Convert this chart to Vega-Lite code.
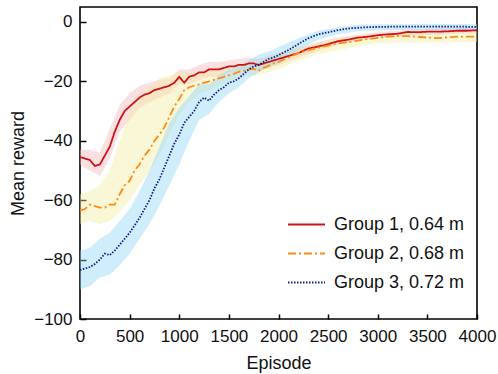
{
  "$schema": "https://vega.github.io/schema/vega-lite/v6.json",
  "width": 397,
  "height": 312,
  "autosize": "none",
  "padding": {"left": 80, "top": 7, "right": 21, "bottom": 55},
  "config": {
    "font": "Liberation Sans",
    "view": {"stroke": "black", "strokeWidth": 1.6},
    "axis": {
      "domain": false,
      "grid": false,
      "labelFontSize": 17,
      "labelColor": "#111",
      "labelOverlap": false,
      "labelFlush": false,
      "titleFontSize": 18,
      "titleFontWeight": "normal",
      "titleColor": "#111",
      "tickColor": "black",
      "tickWidth": 1.5
    },
    "legend": {
      "labelFontSize": 18,
      "labelColor": "#111",
      "symbolType": "stroke",
      "symbolSize": 1369,
      "symbolStrokeWidth": 2,
      "labelOffset": 8,
      "rowPadding": -17,
      "padding": 0
    }
  },
  "datasets": {
    "bands": [
      {"g": "Group 1, 0.64 m", "ep": 0, "lo": -48, "hi": -43},
      {"g": "Group 1, 0.64 m", "ep": 100, "lo": -50, "hi": -43},
      {"g": "Group 1, 0.64 m", "ep": 200, "lo": -52, "hi": -44},
      {"g": "Group 1, 0.64 m", "ep": 300, "lo": -46, "hi": -36},
      {"g": "Group 1, 0.64 m", "ep": 400, "lo": -37, "hi": -28},
      {"g": "Group 1, 0.64 m", "ep": 500, "lo": -33, "hi": -24},
      {"g": "Group 1, 0.64 m", "ep": 600, "lo": -29, "hi": -21.5},
      {"g": "Group 1, 0.64 m", "ep": 700, "lo": -27, "hi": -20.5},
      {"g": "Group 1, 0.64 m", "ep": 800, "lo": -25.5, "hi": -19.5},
      {"g": "Group 1, 0.64 m", "ep": 900, "lo": -24, "hi": -19},
      {"g": "Group 1, 0.64 m", "ep": 1000, "lo": -21, "hi": -16},
      {"g": "Group 1, 0.64 m", "ep": 1100, "lo": -21, "hi": -16},
      {"g": "Group 1, 0.64 m", "ep": 1200, "lo": -19.5, "hi": -14.5},
      {"g": "Group 1, 0.64 m", "ep": 1300, "lo": -18.5, "hi": -13.5},
      {"g": "Group 1, 0.64 m", "ep": 1400, "lo": -18.5, "hi": -13.5},
      {"g": "Group 1, 0.64 m", "ep": 1500, "lo": -17, "hi": -13},
      {"g": "Group 1, 0.64 m", "ep": 1600, "lo": -16.5, "hi": -12.5},
      {"g": "Group 1, 0.64 m", "ep": 1700, "lo": -16, "hi": -12},
      {"g": "Group 1, 0.64 m", "ep": 1800, "lo": -16.5, "hi": -12.5},
      {"g": "Group 1, 0.64 m", "ep": 1900, "lo": -15.5, "hi": -11.5},
      {"g": "Group 1, 0.64 m", "ep": 2000, "lo": -14.5, "hi": -10.5},
      {"g": "Group 1, 0.64 m", "ep": 2200, "lo": -12, "hi": -9},
      {"g": "Group 1, 0.64 m", "ep": 2400, "lo": -9.8, "hi": -6.8},
      {"g": "Group 1, 0.64 m", "ep": 2600, "lo": -7.8, "hi": -5.2},
      {"g": "Group 1, 0.64 m", "ep": 2800, "lo": -6.3, "hi": -4.3},
      {"g": "Group 1, 0.64 m", "ep": 3000, "lo": -5.5, "hi": -3.5},
      {"g": "Group 1, 0.64 m", "ep": 3200, "lo": -5, "hi": -3},
      {"g": "Group 1, 0.64 m", "ep": 3400, "lo": -4.5, "hi": -2.5},
      {"g": "Group 1, 0.64 m", "ep": 3600, "lo": -4.3, "hi": -2.3},
      {"g": "Group 1, 0.64 m", "ep": 3800, "lo": -4, "hi": -2},
      {"g": "Group 1, 0.64 m", "ep": 4000, "lo": -3.8, "hi": -1.8},
      {"g": "Group 2, 0.68 m", "ep": 0, "lo": -68, "hi": -58},
      {"g": "Group 2, 0.68 m", "ep": 100, "lo": -67, "hi": -57},
      {"g": "Group 2, 0.68 m", "ep": 200, "lo": -68, "hi": -55},
      {"g": "Group 2, 0.68 m", "ep": 300, "lo": -67, "hi": -50},
      {"g": "Group 2, 0.68 m", "ep": 400, "lo": -64, "hi": -40},
      {"g": "Group 2, 0.68 m", "ep": 500, "lo": -60, "hi": -30},
      {"g": "Group 2, 0.68 m", "ep": 600, "lo": -55, "hi": -25},
      {"g": "Group 2, 0.68 m", "ep": 700, "lo": -50, "hi": -22},
      {"g": "Group 2, 0.68 m", "ep": 800, "lo": -45, "hi": -19},
      {"g": "Group 2, 0.68 m", "ep": 900, "lo": -38, "hi": -18},
      {"g": "Group 2, 0.68 m", "ep": 1000, "lo": -31, "hi": -17},
      {"g": "Group 2, 0.68 m", "ep": 1100, "lo": -27, "hi": -17},
      {"g": "Group 2, 0.68 m", "ep": 1200, "lo": -24, "hi": -17},
      {"g": "Group 2, 0.68 m", "ep": 1300, "lo": -23, "hi": -16},
      {"g": "Group 2, 0.68 m", "ep": 1400, "lo": -21.5, "hi": -15.5},
      {"g": "Group 2, 0.68 m", "ep": 1500, "lo": -20, "hi": -15},
      {"g": "Group 2, 0.68 m", "ep": 1600, "lo": -19, "hi": -14.5},
      {"g": "Group 2, 0.68 m", "ep": 1700, "lo": -18, "hi": -14},
      {"g": "Group 2, 0.68 m", "ep": 1800, "lo": -18, "hi": -13},
      {"g": "Group 2, 0.68 m", "ep": 1900, "lo": -17, "hi": -12},
      {"g": "Group 2, 0.68 m", "ep": 2000, "lo": -16, "hi": -11},
      {"g": "Group 2, 0.68 m", "ep": 2200, "lo": -13, "hi": -8.5},
      {"g": "Group 2, 0.68 m", "ep": 2400, "lo": -11, "hi": -7},
      {"g": "Group 2, 0.68 m", "ep": 2600, "lo": -9.5, "hi": -5.5},
      {"g": "Group 2, 0.68 m", "ep": 2800, "lo": -8.3, "hi": -4.7},
      {"g": "Group 2, 0.68 m", "ep": 3000, "lo": -7.3, "hi": -4.2},
      {"g": "Group 2, 0.68 m", "ep": 3200, "lo": -7, "hi": -3.8},
      {"g": "Group 2, 0.68 m", "ep": 3400, "lo": -7, "hi": -3.5},
      {"g": "Group 2, 0.68 m", "ep": 3600, "lo": -7, "hi": -3.8},
      {"g": "Group 2, 0.68 m", "ep": 3800, "lo": -6.8, "hi": -3.5},
      {"g": "Group 2, 0.68 m", "ep": 4000, "lo": -6.8, "hi": -3.5},
      {"g": "Group 3, 0.72 m", "ep": 0, "lo": -90, "hi": -77},
      {"g": "Group 3, 0.72 m", "ep": 100, "lo": -89, "hi": -76},
      {"g": "Group 3, 0.72 m", "ep": 200, "lo": -86, "hi": -73},
      {"g": "Group 3, 0.72 m", "ep": 300, "lo": -85, "hi": -71},
      {"g": "Group 3, 0.72 m", "ep": 400, "lo": -82, "hi": -67},
      {"g": "Group 3, 0.72 m", "ep": 500, "lo": -78, "hi": -63},
      {"g": "Group 3, 0.72 m", "ep": 600, "lo": -73, "hi": -57},
      {"g": "Group 3, 0.72 m", "ep": 700, "lo": -68, "hi": -50},
      {"g": "Group 3, 0.72 m", "ep": 800, "lo": -62, "hi": -42},
      {"g": "Group 3, 0.72 m", "ep": 900, "lo": -55, "hi": -34},
      {"g": "Group 3, 0.72 m", "ep": 1000, "lo": -48, "hi": -29},
      {"g": "Group 3, 0.72 m", "ep": 1100, "lo": -40, "hi": -25},
      {"g": "Group 3, 0.72 m", "ep": 1200, "lo": -33, "hi": -21},
      {"g": "Group 3, 0.72 m", "ep": 1300, "lo": -31, "hi": -21},
      {"g": "Group 3, 0.72 m", "ep": 1400, "lo": -27, "hi": -18},
      {"g": "Group 3, 0.72 m", "ep": 1500, "lo": -24, "hi": -16},
      {"g": "Group 3, 0.72 m", "ep": 1600, "lo": -22, "hi": -15},
      {"g": "Group 3, 0.72 m", "ep": 1700, "lo": -19, "hi": -13},
      {"g": "Group 3, 0.72 m", "ep": 1800, "lo": -17, "hi": -11},
      {"g": "Group 3, 0.72 m", "ep": 1900, "lo": -15, "hi": -10},
      {"g": "Group 3, 0.72 m", "ep": 2000, "lo": -14, "hi": -8.5},
      {"g": "Group 3, 0.72 m", "ep": 2200, "lo": -9.5, "hi": -5.5},
      {"g": "Group 3, 0.72 m", "ep": 2400, "lo": -6, "hi": -3},
      {"g": "Group 3, 0.72 m", "ep": 2600, "lo": -4.2, "hi": -1.8},
      {"g": "Group 3, 0.72 m", "ep": 2800, "lo": -3.2, "hi": -1},
      {"g": "Group 3, 0.72 m", "ep": 3000, "lo": -2.8, "hi": -0.8},
      {"g": "Group 3, 0.72 m", "ep": 3500, "lo": -2.7, "hi": -0.7},
      {"g": "Group 3, 0.72 m", "ep": 4000, "lo": -2.7, "hi": -0.7}
    ],
    "lines": [
      {"g": "Group 1, 0.64 m", "ep": 0, "m": -45.5},
      {"g": "Group 1, 0.64 m", "ep": 50, "m": -46},
      {"g": "Group 1, 0.64 m", "ep": 100, "m": -46.5},
      {"g": "Group 1, 0.64 m", "ep": 150, "m": -48.5},
      {"g": "Group 1, 0.64 m", "ep": 200, "m": -48},
      {"g": "Group 1, 0.64 m", "ep": 250, "m": -45},
      {"g": "Group 1, 0.64 m", "ep": 300, "m": -42},
      {"g": "Group 1, 0.64 m", "ep": 350, "m": -37},
      {"g": "Group 1, 0.64 m", "ep": 400, "m": -33},
      {"g": "Group 1, 0.64 m", "ep": 450, "m": -30},
      {"g": "Group 1, 0.64 m", "ep": 500, "m": -28.5},
      {"g": "Group 1, 0.64 m", "ep": 550, "m": -27},
      {"g": "Group 1, 0.64 m", "ep": 600, "m": -25.5},
      {"g": "Group 1, 0.64 m", "ep": 650, "m": -24.5},
      {"g": "Group 1, 0.64 m", "ep": 700, "m": -24},
      {"g": "Group 1, 0.64 m", "ep": 750, "m": -23},
      {"g": "Group 1, 0.64 m", "ep": 800, "m": -22.5},
      {"g": "Group 1, 0.64 m", "ep": 850, "m": -22},
      {"g": "Group 1, 0.64 m", "ep": 900, "m": -21.5},
      {"g": "Group 1, 0.64 m", "ep": 950, "m": -20.5},
      {"g": "Group 1, 0.64 m", "ep": 1000, "m": -18.5},
      {"g": "Group 1, 0.64 m", "ep": 1050, "m": -20.5},
      {"g": "Group 1, 0.64 m", "ep": 1100, "m": -18.5},
      {"g": "Group 1, 0.64 m", "ep": 1150, "m": -18},
      {"g": "Group 1, 0.64 m", "ep": 1200, "m": -17},
      {"g": "Group 1, 0.64 m", "ep": 1250, "m": -17},
      {"g": "Group 1, 0.64 m", "ep": 1300, "m": -16},
      {"g": "Group 1, 0.64 m", "ep": 1350, "m": -16},
      {"g": "Group 1, 0.64 m", "ep": 1400, "m": -16},
      {"g": "Group 1, 0.64 m", "ep": 1450, "m": -15.5},
      {"g": "Group 1, 0.64 m", "ep": 1500, "m": -15},
      {"g": "Group 1, 0.64 m", "ep": 1550, "m": -15},
      {"g": "Group 1, 0.64 m", "ep": 1600, "m": -14.5},
      {"g": "Group 1, 0.64 m", "ep": 1650, "m": -14.5},
      {"g": "Group 1, 0.64 m", "ep": 1700, "m": -14},
      {"g": "Group 1, 0.64 m", "ep": 1750, "m": -14},
      {"g": "Group 1, 0.64 m", "ep": 1800, "m": -14.5},
      {"g": "Group 1, 0.64 m", "ep": 1850, "m": -14},
      {"g": "Group 1, 0.64 m", "ep": 1900, "m": -13.5},
      {"g": "Group 1, 0.64 m", "ep": 1950, "m": -13},
      {"g": "Group 1, 0.64 m", "ep": 2000, "m": -12.5},
      {"g": "Group 1, 0.64 m", "ep": 2100, "m": -11.5},
      {"g": "Group 1, 0.64 m", "ep": 2200, "m": -10.5},
      {"g": "Group 1, 0.64 m", "ep": 2300, "m": -9},
      {"g": "Group 1, 0.64 m", "ep": 2400, "m": -8.3},
      {"g": "Group 1, 0.64 m", "ep": 2500, "m": -7.5},
      {"g": "Group 1, 0.64 m", "ep": 2600, "m": -6.5},
      {"g": "Group 1, 0.64 m", "ep": 2700, "m": -6},
      {"g": "Group 1, 0.64 m", "ep": 2800, "m": -5.3},
      {"g": "Group 1, 0.64 m", "ep": 2900, "m": -5},
      {"g": "Group 1, 0.64 m", "ep": 3000, "m": -4.5},
      {"g": "Group 1, 0.64 m", "ep": 3100, "m": -4.2},
      {"g": "Group 1, 0.64 m", "ep": 3200, "m": -4},
      {"g": "Group 1, 0.64 m", "ep": 3300, "m": -3.4},
      {"g": "Group 1, 0.64 m", "ep": 3400, "m": -3.5},
      {"g": "Group 1, 0.64 m", "ep": 3500, "m": -3.3},
      {"g": "Group 1, 0.64 m", "ep": 3600, "m": -3.3},
      {"g": "Group 1, 0.64 m", "ep": 3700, "m": -3.2},
      {"g": "Group 1, 0.64 m", "ep": 3800, "m": -3},
      {"g": "Group 1, 0.64 m", "ep": 3900, "m": -3},
      {"g": "Group 1, 0.64 m", "ep": 4000, "m": -2.8},
      {"g": "Group 2, 0.68 m", "ep": 0, "m": -63.5},
      {"g": "Group 2, 0.68 m", "ep": 50, "m": -63},
      {"g": "Group 2, 0.68 m", "ep": 100, "m": -61.5},
      {"g": "Group 2, 0.68 m", "ep": 150, "m": -62},
      {"g": "Group 2, 0.68 m", "ep": 200, "m": -62.5},
      {"g": "Group 2, 0.68 m", "ep": 250, "m": -62.5},
      {"g": "Group 2, 0.68 m", "ep": 300, "m": -61.5},
      {"g": "Group 2, 0.68 m", "ep": 350, "m": -61.5},
      {"g": "Group 2, 0.68 m", "ep": 400, "m": -58},
      {"g": "Group 2, 0.68 m", "ep": 450, "m": -55},
      {"g": "Group 2, 0.68 m", "ep": 500, "m": -53.5},
      {"g": "Group 2, 0.68 m", "ep": 550, "m": -50},
      {"g": "Group 2, 0.68 m", "ep": 600, "m": -48},
      {"g": "Group 2, 0.68 m", "ep": 650, "m": -45},
      {"g": "Group 2, 0.68 m", "ep": 700, "m": -43},
      {"g": "Group 2, 0.68 m", "ep": 750, "m": -40},
      {"g": "Group 2, 0.68 m", "ep": 800, "m": -38},
      {"g": "Group 2, 0.68 m", "ep": 850, "m": -35.5},
      {"g": "Group 2, 0.68 m", "ep": 900, "m": -32},
      {"g": "Group 2, 0.68 m", "ep": 950, "m": -28.5},
      {"g": "Group 2, 0.68 m", "ep": 1000, "m": -26},
      {"g": "Group 2, 0.68 m", "ep": 1050, "m": -23},
      {"g": "Group 2, 0.68 m", "ep": 1100, "m": -22},
      {"g": "Group 2, 0.68 m", "ep": 1150, "m": -21.5},
      {"g": "Group 2, 0.68 m", "ep": 1200, "m": -21},
      {"g": "Group 2, 0.68 m", "ep": 1250, "m": -20.5},
      {"g": "Group 2, 0.68 m", "ep": 1300, "m": -20},
      {"g": "Group 2, 0.68 m", "ep": 1350, "m": -19.5},
      {"g": "Group 2, 0.68 m", "ep": 1400, "m": -19},
      {"g": "Group 2, 0.68 m", "ep": 1450, "m": -18.5},
      {"g": "Group 2, 0.68 m", "ep": 1500, "m": -18},
      {"g": "Group 2, 0.68 m", "ep": 1550, "m": -17.5},
      {"g": "Group 2, 0.68 m", "ep": 1600, "m": -16.8},
      {"g": "Group 2, 0.68 m", "ep": 1650, "m": -16.5},
      {"g": "Group 2, 0.68 m", "ep": 1700, "m": -16},
      {"g": "Group 2, 0.68 m", "ep": 1750, "m": -15.8},
      {"g": "Group 2, 0.68 m", "ep": 1800, "m": -16.5},
      {"g": "Group 2, 0.68 m", "ep": 1850, "m": -15.5},
      {"g": "Group 2, 0.68 m", "ep": 1900, "m": -14.8},
      {"g": "Group 2, 0.68 m", "ep": 1950, "m": -14},
      {"g": "Group 2, 0.68 m", "ep": 2000, "m": -13.5},
      {"g": "Group 2, 0.68 m", "ep": 2100, "m": -12},
      {"g": "Group 2, 0.68 m", "ep": 2200, "m": -10.5},
      {"g": "Group 2, 0.68 m", "ep": 2300, "m": -9.5},
      {"g": "Group 2, 0.68 m", "ep": 2400, "m": -8.7},
      {"g": "Group 2, 0.68 m", "ep": 2500, "m": -8},
      {"g": "Group 2, 0.68 m", "ep": 2600, "m": -7.2},
      {"g": "Group 2, 0.68 m", "ep": 2700, "m": -6.8},
      {"g": "Group 2, 0.68 m", "ep": 2800, "m": -6.3},
      {"g": "Group 2, 0.68 m", "ep": 2900, "m": -5.8},
      {"g": "Group 2, 0.68 m", "ep": 3000, "m": -5.4},
      {"g": "Group 2, 0.68 m", "ep": 3100, "m": -5},
      {"g": "Group 2, 0.68 m", "ep": 3200, "m": -4.8},
      {"g": "Group 2, 0.68 m", "ep": 3300, "m": -4.8},
      {"g": "Group 2, 0.68 m", "ep": 3400, "m": -5},
      {"g": "Group 2, 0.68 m", "ep": 3500, "m": -5.3},
      {"g": "Group 2, 0.68 m", "ep": 3600, "m": -5.5},
      {"g": "Group 2, 0.68 m", "ep": 3700, "m": -5.2},
      {"g": "Group 2, 0.68 m", "ep": 3800, "m": -5},
      {"g": "Group 2, 0.68 m", "ep": 3900, "m": -5},
      {"g": "Group 2, 0.68 m", "ep": 4000, "m": -5},
      {"g": "Group 3, 0.72 m", "ep": 0, "m": -83.5},
      {"g": "Group 3, 0.72 m", "ep": 50, "m": -83},
      {"g": "Group 3, 0.72 m", "ep": 100, "m": -82.5},
      {"g": "Group 3, 0.72 m", "ep": 150, "m": -81.5},
      {"g": "Group 3, 0.72 m", "ep": 200, "m": -80},
      {"g": "Group 3, 0.72 m", "ep": 250, "m": -78},
      {"g": "Group 3, 0.72 m", "ep": 300, "m": -78.5},
      {"g": "Group 3, 0.72 m", "ep": 350, "m": -77},
      {"g": "Group 3, 0.72 m", "ep": 400, "m": -75},
      {"g": "Group 3, 0.72 m", "ep": 450, "m": -73},
      {"g": "Group 3, 0.72 m", "ep": 500, "m": -71},
      {"g": "Group 3, 0.72 m", "ep": 550, "m": -68.5},
      {"g": "Group 3, 0.72 m", "ep": 600, "m": -66},
      {"g": "Group 3, 0.72 m", "ep": 650, "m": -63},
      {"g": "Group 3, 0.72 m", "ep": 700, "m": -60},
      {"g": "Group 3, 0.72 m", "ep": 750, "m": -56},
      {"g": "Group 3, 0.72 m", "ep": 800, "m": -53},
      {"g": "Group 3, 0.72 m", "ep": 850, "m": -49},
      {"g": "Group 3, 0.72 m", "ep": 900, "m": -45},
      {"g": "Group 3, 0.72 m", "ep": 950, "m": -41},
      {"g": "Group 3, 0.72 m", "ep": 1000, "m": -38},
      {"g": "Group 3, 0.72 m", "ep": 1050, "m": -34},
      {"g": "Group 3, 0.72 m", "ep": 1100, "m": -32},
      {"g": "Group 3, 0.72 m", "ep": 1150, "m": -30},
      {"g": "Group 3, 0.72 m", "ep": 1200, "m": -27},
      {"g": "Group 3, 0.72 m", "ep": 1250, "m": -25.5},
      {"g": "Group 3, 0.72 m", "ep": 1300, "m": -26.5},
      {"g": "Group 3, 0.72 m", "ep": 1350, "m": -24.5},
      {"g": "Group 3, 0.72 m", "ep": 1400, "m": -23},
      {"g": "Group 3, 0.72 m", "ep": 1450, "m": -22},
      {"g": "Group 3, 0.72 m", "ep": 1500, "m": -20.5},
      {"g": "Group 3, 0.72 m", "ep": 1550, "m": -20},
      {"g": "Group 3, 0.72 m", "ep": 1600, "m": -19},
      {"g": "Group 3, 0.72 m", "ep": 1650, "m": -17.5},
      {"g": "Group 3, 0.72 m", "ep": 1700, "m": -16},
      {"g": "Group 3, 0.72 m", "ep": 1750, "m": -15},
      {"g": "Group 3, 0.72 m", "ep": 1800, "m": -14.5},
      {"g": "Group 3, 0.72 m", "ep": 1850, "m": -13.5},
      {"g": "Group 3, 0.72 m", "ep": 1900, "m": -12.5},
      {"g": "Group 3, 0.72 m", "ep": 1950, "m": -12},
      {"g": "Group 3, 0.72 m", "ep": 2000, "m": -11.2},
      {"g": "Group 3, 0.72 m", "ep": 2100, "m": -9.5},
      {"g": "Group 3, 0.72 m", "ep": 2200, "m": -7.5},
      {"g": "Group 3, 0.72 m", "ep": 2300, "m": -5.5},
      {"g": "Group 3, 0.72 m", "ep": 2400, "m": -4.2},
      {"g": "Group 3, 0.72 m", "ep": 2500, "m": -3.5},
      {"g": "Group 3, 0.72 m", "ep": 2600, "m": -2.8},
      {"g": "Group 3, 0.72 m", "ep": 2700, "m": -2.2},
      {"g": "Group 3, 0.72 m", "ep": 2800, "m": -2},
      {"g": "Group 3, 0.72 m", "ep": 2900, "m": -1.8},
      {"g": "Group 3, 0.72 m", "ep": 3000, "m": -1.7},
      {"g": "Group 3, 0.72 m", "ep": 3200, "m": -1.6},
      {"g": "Group 3, 0.72 m", "ep": 3400, "m": -1.6},
      {"g": "Group 3, 0.72 m", "ep": 3600, "m": -1.6},
      {"g": "Group 3, 0.72 m", "ep": 3800, "m": -1.6},
      {"g": "Group 3, 0.72 m", "ep": 4000, "m": -1.7}
    ]
  },
  "layer": [
    {
      "data": {"name": "bands"},
      "mark": {"type": "area", "opacity": 0.42},
      "encoding": {
        "x": {
          "field": "ep", "type": "quantitative",
          "scale": {"domain": [0, 4000], "nice": false},
          "axis": {
            "title": "Episode",
            "values": [0, 250, 500, 750, 1000, 1250, 1500, 1750, 2000, 2250, 2500, 2750, 3000, 3250, 3500, 3750, 4000],
            "format": "d",
            "labelExpr": "datum.value % 500 ? '' : datum.label",
            "tickSize": {"condition": {"test": "datum.value % 500 === 0", "value": -5}, "value": -3},
            "labelPadding": 14,
            "titlePadding": 10
          }
        },
        "y": {
          "field": "lo", "type": "quantitative",
          "scale": {"domain": [-100, 5], "nice": false},
          "axis": {
            "title": "Mean reward",
            "values": [-100, -90, -80, -70, -60, -50, -40, -30, -20, -10, 0],
            "labelExpr": "datum.value % 20 ? '' : datum.label",
            "tickSize": {"condition": {"test": "datum.value % 20 === 0", "value": -6}, "value": -3},
            "labelPadding": 14,
            "titlePadding": 6
          }
        },
        "y2": {"field": "hi"},
        "fill": {
          "field": "g", "type": "nominal",
          "scale": {"range": ["#f6b4ba", "#f2eba0", "#8fd3f5"]},
          "legend": null
        }
      }
    },
    {
      "data": {"name": "lines"},
      "mark": {"type": "line", "strokeWidth": 1.8},
      "encoding": {
        "x": {"field": "ep", "type": "quantitative"},
        "y": {"field": "m", "type": "quantitative"},
        "color": {
          "field": "g", "type": "nominal",
          "scale": {"range": ["#cc1417", "#ff8a14", "#101e8c"]},
          "legend": {"title": null, "orient": "none", "legendX": 207, "legendY": 198}
        },
        "strokeDash": {
          "field": "g", "type": "nominal",
          "scale": {"range": [[1, 0], [8, 3, 2, 3], [1.5, 1.5]]},
          "legend": {"title": null, "orient": "none", "legendX": 207, "legendY": 198}
        }
      }
    }
  ]
}
